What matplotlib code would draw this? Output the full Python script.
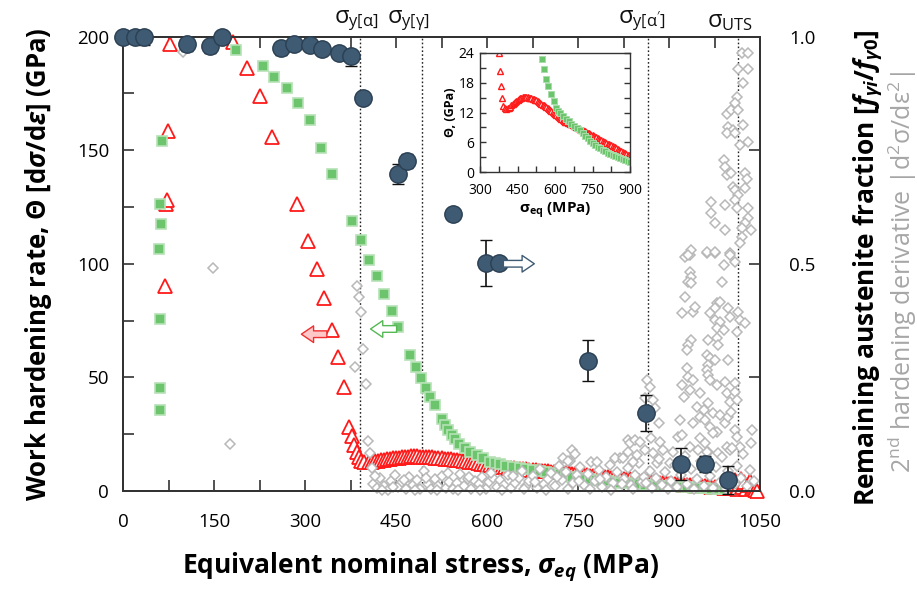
import matplotlib
matplotlib.use('Agg')
import matplotlib.pyplot as plt
from matplotlib.ticker import MultipleLocator, FixedLocator, FixedFormatter
from matplotlib.patches import FancyArrowPatch
import matplotlib.transforms as mtrans

plt.rcParams['font.family'] = ['Open Sans', 'DejaVu Sans']
plt.rcParams['mathtext.fontset'] = 'custom'
plt.rcParams['mathtext.it'] = 'Open Sans:italic:bold'
plt.rcParams['mathtext.rm'] = 'Open Sans:bold'
plt.rcParams['mathtext.bf'] = 'Open Sans:bold'

# ---------------- data ----------------
# remaining austenite fraction (right axis)
circ_x = [0, 20, 35, 106, 143, 164, 260, 282, 308, 328, 356, 375, 396, 453, 468,
          544, 598, 620, 766, 862, 919, 960, 998]
circ_y = [1.0, 1.0, 1.0, 0.983, 0.979, 1.0, 0.974, 0.983, 0.981, 0.972, 0.964, 0.956,
          0.864, 0.697, 0.726, 0.609, 0.502, 0.502, 0.287, 0.171, 0.059, 0.059, 0.024]
circ_err_lo = [0, 0, 0.018, 0.015, 0.016, 0.016, 0.015, 0, 0, 0, 0.01, 0.022, 0.005,
               0.022, 0.015, 0, 0.05, 0, 0.045, 0.04, 0.035, 0.017, 0.03]
circ_err_hi = [0, 0, 0, 0, 0, 0, 0, 0, 0, 0, 0, 0, 0,
               0.022, 0.015, 0, 0.05, 0, 0.045, 0.04, 0.035, 0.017, 0.03]

# work hardening rate, red (triangles): sparse early points
red_x_a = [70, 71, 72, 74, 77.5, 181, 204, 226, 246, 287, 305, 320, 332, 345, 355, 364,
           372, 377, 381, 385, 389, 393, 398]
red_y_a = [90.3, 126.2, 128.0, 158.4, 196.7, 197.7, 186.0, 173.8, 155.9, 126.3, 110.1, 97.8,
           85.1, 70.8, 59.1, 45.6, 28.3, 24.0, 20.3, 17.3, 15.0, 13.3, 12.9]
# dense part
red_x_b = [405, 410, 415, 420, 425, 430, 435, 440, 445, 450, 455, 460, 465, 470, 475, 480,
           485, 490, 495, 500, 505, 510, 515, 520, 525, 530, 535, 540, 545, 550, 555, 560,
           565, 570, 575, 580, 585, 590, 595, 600, 605, 610, 615, 620, 625, 630, 635, 640,
           645, 650, 655, 660, 665, 670, 675, 680, 685, 690, 695, 700, 705, 710, 715, 720,
           725, 730, 735, 740, 745, 750, 755, 760, 765, 770, 775, 780, 785, 790, 795, 800,
           805, 810, 815, 820, 825, 830, 835, 840, 845, 850, 855, 860, 865, 870, 875, 880,
           885, 890, 895, 900, 905, 910, 915, 920, 925, 930, 935, 940, 945, 950, 955, 960,
           965, 970, 975, 980, 985, 990, 995,
           1000, 1003, 1006, 1009, 1012, 1015, 1018, 1021, 1024, 1027, 1030, 1033, 1036, 1039,
           1042, 1045]
red_y_b = [12.8, 12.9, 13.0, 13.2, 13.5, 13.7, 14.0, 14.2, 14.4, 14.6, 14.7, 14.9, 15.0, 15.1,
           15.2, 15.2, 15.2, 15.1, 15.0, 15.0, 14.9, 14.8, 14.7, 14.6, 14.5, 14.3, 14.2, 14.0,
           13.8, 13.6, 13.5, 13.3, 13.1, 12.9, 12.8, 12.6, 12.3, 12.1, 11.9, 11.6, 11.4, 11.2,
           11.0, 10.8, 10.6, 10.4, 10.3, 10.1, 10.0, 9.9, 9.8, 9.7, 9.6, 9.4, 9.3, 9.2, 9.0,
           8.9, 8.8, 8.6, 8.5, 8.4, 8.3, 8.2, 8.1, 7.9, 7.8, 7.6, 7.5, 7.4, 7.2, 7.1, 7.0, 6.8,
           6.7, 6.5, 6.4, 6.3, 6.1, 6.0, 5.9, 5.7, 5.6, 5.5, 5.4, 5.2, 5.1, 5.0, 4.8, 4.6, 4.5,
           4.3, 4.2, 4.0, 3.9, 3.8, 3.6, 3.5, 3.4, 3.3, 3.2, 3.1, 3.0, 2.9, 2.8, 2.7, 2.6, 2.5,
           2.4, 2.3, 2.2, 2.1, 2.0, 1.9, 1.8, 1.7, 1.6, 1.5, 1.4,
           1.5, 3.5, 2.2, 4.8, 1.0, 3.0, 5.2, 1.8, 3.9, 0.8, 2.7, 4.4, 1.2, 2.4, 0.5, 0.0]
red_x = red_x_a + red_x_b
red_y = red_y_a + red_y_b

# work hardening rate, green (squares)
grn_x = [63.8, 60.9, 62.6, 59.8, 60.9, 60.9, 60.9,
         187, 230, 249, 271, 289, 308, 326, 344, 377, 392, 406, 418, 431, 443, 454, 473,
         483, 491, 499, 506, 515, 526, 531, 536, 542, 547, 554, 564, 572, 583, 594, 605,
         613, 621, 632, 643, 654, 665, 676, 687, 698, 710, 720, 730, 740, 750, 760, 770,
         780, 790, 800, 810, 820, 830, 840, 850, 860, 870, 880, 890, 900, 910, 920, 930,
         940, 950, 960, 970, 980, 990]
grn_y = [154.0, 126.3, 117.5, 106.5, 75.9, 45.5, 35.6,
         194.1, 187.0, 182.0, 177.2, 170.9, 163.3, 150.9, 139.5, 118.9, 110.5, 101.7, 94.6,
         86.7, 79.1, 72.0, 59.8, 54.4, 49.6, 45.2, 41.4, 37.8, 31.7, 29.0, 26.8, 24.6, 22.8,
         20.7, 18.8, 17.3, 15.8, 14.4, 12.9, 12.3, 11.9, 11.2, 10.7, 10.2, 9.7, 9.2, 8.8,
         8.4, 7.8, 7.3, 6.8, 6.3, 5.8, 5.5, 5.1, 4.8, 4.4, 4.2, 3.9, 3.7, 3.4, 3.2, 3.0,
         2.8, 2.6, 2.4, 2.3, 2.1, 2.0, 1.8, 1.7, 1.5, 1.4, 1.2, 1.1, 0.9, 0.8]

# second hardening derivative (arbitrary units, hidden axis 0-200)
gray_x = [99, 148, 176, 382, 386, 389.5, 393, 396, 400, 404, 407, 410,
          412, 418, 424, 430, 436, 442, 448, 454, 460, 466, 472, 478, 484, 490, 496, 502,
          508, 514, 520, 526, 532, 538, 544, 550, 556, 562, 568, 574, 580, 586, 592, 598,
          604, 610, 616, 622, 628, 634, 640, 646, 652, 658, 664, 670, 676, 682, 688, 694,
          700, 706, 712, 718, 724, 730, 736, 742, 748, 754, 760, 766, 772, 778, 784, 790,
          796, 802, 808, 814, 820, 826, 832, 838, 844, 850, 856,
          415, 427, 445, 463, 481, 499, 517, 535, 553, 571, 589, 607, 625, 643, 661, 679,
          697, 715, 733, 751, 769, 787, 805, 823, 841, 859,
          725, 740, 745, 733, 781, 811, 833,
          863, 868.6, 860.4, 873, 877, 884, 835.7, 844, 852, 871, 885, 833, 847, 860, 874,
          890.6, 824.7, 841, 879.6, 907, 901.6,
          926, 935, 962, 976, 1000, 1009, 990, 935, 937, 932, 937, 987, 926, 979, 984, 976,
          968, 921, 940, 943, 1000, 1014, 1017, 1025, 976, 984, 998, 979, 990, 1012, 937,
          932, 929, 965, 979, 981, 998, 962, 968, 976, 929, 965, 962, 932, 940, 965, 968,
          979, 992, 1009, 921, 935, 951, 924, 946, 965, 957, 973, 995, 1000, 1009, 1012,
          951, 959, 984, 918, 940, 968, 979, 992, 998, 1003, 1009, 1012, 1017, 1036, 1035,
          915, 921, 951, 959, 973, 935, 948, 965, 981, 995, 1000,
          1020, 1031, 1014, 1031, 1022, 1012, 1009, 995, 1003, 1014, 998, 1006, 995, 1009,
          1022, 1017, 1031, 990, 992, 995, 1003, 1025, 1028, 1006, 1009, 1014, 1025, 1009,
          970, 992, 970, 976, 992, 1012, 1031, 1031, 1025, 1035, 1020, 1020, 1017, 937,
          932, 962, 976, 1000,
          862, 868, 872, 878, 884, 888, 894, 898, 904, 910, 914, 920, 926, 930, 936, 942,
          946, 952, 958, 962, 968, 972, 978, 984, 988, 994, 998, 1004, 1008, 1012, 1018,
          1022, 1028, 1034, 1040]
gray_y = [193, 98, 20.5, 54.7, 90.2, 85.5, 78.9, 62.3, 47.0, 22.1, 16.6, 10.0,
          3.1, 1.2, 5.6, 2.4, 0.6, 4.3, 7.2, 1.8, 3.9, 0.9, 6.1, 2.7, 4.8, 1.1, 8.6, 3.3,
          0.7, 5.2, 2.1, 6.8, 1.5, 4.1, 0.8, 3.6, 7.4, 2.2, 5.5, 1.0, 4.4, 2.9, 6.3, 0.9,
          3.8, 5.9, 1.6, 4.7, 2.5, 7.1, 1.3, 3.4, 5.8, 8.9, 2.0, 4.6, 6.6, 1.4, 9.5, 3.0,
          5.3, 7.8, 2.3, 11.2, 4.9, 8.2, 13.1, 3.5, 6.9, 10.4, 2.6, 7.6, 12.8, 4.2, 9.1, 1.7,
          6.0, 11.6, 3.7, 8.4, 14.6, 5.1, 10.1, 2.8, 7.0, 12.2, 4.0,
          6.5, 0.4, 1.9, 5.0, 0.3, 5.9, 0.5, 7.9, 0.4, 6.2, 0.6, 8.0, 0.5, 6.4, 0.8, 3.9,
          0.4, 6.3, 1.1, 4.4, 0.9, 5.5, 0.6, 3.1, 0.7, 6.1,
          14.5, 18.0, 16.5, 13.0, 12.9, 14.4, 22.4,
          48.8, 45.9, 40.8, 40.0, 36.4, 29.8, 21.0, 22.4, 21.7, 23.2, 21.7, 17.3, 15.8, 18.0,
          16.6, 18.0, 14.4, 12.9, 12.2, 17.3, 12.2,
          103.0, 103.9, 104.6, 104.9, 104.6, 100.9, 99.5, 96.5, 94.3, 92.1, 91.4, 92.1, 85.5,
          82.6, 83.3, 80.4, 78.2, 78.2, 78.9, 81.1, 76.7, 78.9, 75.2, 73.8, 75.2, 74.5, 80.4,
          71.6, 70.8, 70.1, 66.4, 64.2, 62.0, 66.4, 67.2, 64.2, 57.6, 59.8, 58.4, 57.6, 54.0,
          55.4, 53.2, 50.3, 48.8, 51.0, 48.8, 46.6, 48.1, 47.4, 46.6, 44.4, 43.0, 41.5, 37.1,
          38.6, 35.6, 34.2, 43.0, 39.3, 43.7, 40.0, 32.7, 31.2, 33.4, 31.2, 29.8, 28.3, 26.1,
          29.8, 32.7, 34.9, 26.8, 23.9, 19.5, 26.8, 21.0,
          23.9, 24.6, 23.2, 21.0, 25.4, 19.5, 18.0, 17.3, 16.6, 19.5, 18.0,
          192.6, 192.6, 185.6, 185.6, 179.4, 173.5, 170.6, 165.9, 167.7, 167.7, 160.3, 158.9,
          157.4, 157.4, 161.1, 152.3, 153.7, 145.7, 142.7, 139.1, 139.8, 139.8, 137.2, 133.9,
          132.5, 130.3, 133.2, 128.1, 127.3, 125.9, 122.5, 117.8, 114.9, 124.4, 124.4, 120.0,
          117.8, 114.9, 115.6, 111.9, 109.3, 106.0, 103.9, 105.0, 105.0, 103.9,
          3.5, 9.0, 1.2, 5.8, 14.0, 2.5, 8.3, 0.8, 4.6, 11.5, 1.9, 7.2, 15.5, 3.0, 9.8, 0.9,
          5.1, 13.2, 2.4, 17.0, 6.5, 1.3, 10.7, 4.0, 14.8, 0.7, 8.6, 19.0, 3.2, 11.0, 5.9,
          16.4, 2.1, 9.3, 4.5]

# characteristic stresses
line_x = [390.6, 493, 866, 1014]
line_labels = ['σ$_\\mathregular{y[α]}$', 'σ$_\\mathregular{y[γ]}$',
               'σ$_\\mathregular{y[α\']}$', 'σ$_\\mathregular{UTS}$']
label_dx = [-4, -14, -6, -8]

# arrows (tail, head)
red_arrow = [(336, 69), (294, 69)]
grn_arrow = [(451, 71.3), (408, 71.3)]
blu_arrow = [(627, 0.5), (678, 0.5)]

# ---------------- figure ----------------
W, H = 917, 589
fig = plt.figure(figsize=(W / 100, H / 100), dpi=100)
L, R, B, T = 123, 760, 491, 36.5
ax = fig.add_axes([L / W, 1 - B / H, (R - L) / W, (B - T) / H])
ax3 = ax.twinx()
ax2 = ax.twinx()

spc = '#333333'
for a in (ax, ax2, ax3):
    for s in a.spines.values():
        s.set_color(spc)
        s.set_linewidth(1.2)

ax.set_xlim(0, 1050)
ax.set_ylim(0, 200)
ax.xaxis.set_major_locator(MultipleLocator(150))
ax.xaxis.set_minor_locator(MultipleLocator(75))
ax.yaxis.set_major_locator(MultipleLocator(50))
ax.yaxis.set_minor_locator(MultipleLocator(25))
ax.tick_params(which='both', direction='in', length=8, width=1.2, color=spc,
               top=True, right=False, labelsize=13.5)
ax.tick_params(axis='x', pad=16)
ax.tick_params(axis='y', pad=10)

# vertical dotted lines
for xv in line_x:
    ax.axvline(xv, color='#222222', lw=1.0, ls=(0, (1.2, 1.6)), zorder=1)

ax.plot(red_x, red_y, ls='none', marker='^', ms=10.5, mfc='white', mec='#ff1a1a',
        mew=1.3, clip_on=False, zorder=3)
ax.plot(grn_x, grn_y, ls='none', marker='s', ms=6.5, mfc='#6cc46c', mec='#b5e2b5',
        mew=1.2, clip_on=False, zorder=4)

arr_kw = dict(arrowstyle='simple,head_length=0.55,head_width=0.75,tail_width=0.3',
              mutation_scale=16, lw=1.0, shrinkA=0, shrinkB=0, zorder=6)
ax.add_patch(FancyArrowPatch(red_arrow[0], red_arrow[1], fc='#ffc8c8', ec='#f03030', **arr_kw))
ax.add_patch(FancyArrowPatch(grn_arrow[0], grn_arrow[1], fc='white', ec='#55b855', **arr_kw))

ax.set_xlabel('Equivalent nominal stress, $σ_{eq}$ (MPa)', fontsize=19, fontweight='bold')
ax.xaxis.set_label_coords((420 - L) / (R - L), -(551 - B) / (B - T), transform=ax.transAxes)
ax.set_ylabel('Work hardening rate, $Θ$ [d$σ$/d$ε$] (GPa)', fontsize=18.5, fontweight='bold')
ax.yaxis.set_label_coords(-(L - 54) / (R - L), (B - 264) / (B - T), transform=ax.transAxes)

# top labels
trans = mtrans.blended_transform_factory(ax.transData, ax.transAxes)
for xv, lab, dx in zip(line_x, line_labels, label_dx):
    t = ax.text(xv, 1.008, lab, transform=trans, ha='center', va='bottom', fontsize=17,
                color='#111111')
    t.set_transform(trans + mtrans.ScaledTranslation(dx / 100, 0, fig.dpi_scale_trans))

# hidden derivative axis
ax3.set_ylim(0, 200)
ax3.set_yticks([])
ax3.plot(gray_x, gray_y, ls='none', marker='D', ms=5, mfc='white', mec='#b8b8b8',
         mew=1.1, clip_on=False)

# right axis: austenite fraction
ax2.set_ylim(0, 1.0)
ax2.yaxis.set_major_locator(FixedLocator([0, 0.5, 1.0]))
ax2.yaxis.set_major_formatter(FixedFormatter(['0.0', '0.5', '1.0']))
ax2.yaxis.set_minor_locator(MultipleLocator(0.25))
ax2.tick_params(which='both', direction='in', length=8, width=1.2, color=spc,
                labelsize=13.5, pad=21)
ax2.errorbar(circ_x, circ_y, yerr=[circ_err_lo, circ_err_hi], fmt='o', ms=12.5,
             mfc='#3f5b74', mec='#2a3f52', mew=1.0, ecolor='#111111', elinewidth=1.2,
             capsize=4, capthick=1.2, clip_on=False, zorder=5)
ax2.add_patch(FancyArrowPatch(blu_arrow[0], blu_arrow[1], fc='white', ec='#3f5b74', **arr_kw))

fig.text(868 / W, 1 - 268 / H, 'Remaining austenite fraction [$f_{γi}/f_{γ0}$]',
         rotation=90, ha='center', va='center', fontsize=19, fontweight='bold')
fig.text(902 / W, 1 - 272 / H, '2$^\\mathregular{nd}$ hardening derivative |d$^\\mathregular{2}$σ/dε$^\\mathregular{2}$|',
         rotation=90, ha='center', va='center', fontsize=18, color='#a6a6a6')

# ---------------- inset ----------------
axi = fig.add_axes([480 / W, 1 - 172 / H, 150 / W, 119 / H])
axi.set_xlim(300, 900)
axi.set_ylim(0, 24)
axi.xaxis.set_major_locator(MultipleLocator(150))
axi.xaxis.set_minor_locator(MultipleLocator(75))
axi.yaxis.set_major_locator(MultipleLocator(6))
axi.yaxis.set_minor_locator(MultipleLocator(3))
axi.tick_params(which='both', direction='in', length=4, width=1.0, color=spc,
                left=True, right=True, bottom=True, top=False, labelsize=10, pad=4)
axi.tick_params(axis='x', pad=8)
for s in axi.spines.values():
    s.set_color(spc)
    s.set_linewidth(1.0)
axi.plot(red_x, red_y, ls='none', marker='^', ms=5, mfc='white', mec='#ff1a1a', mew=1.0)
axi.plot(grn_x, grn_y, ls='none', marker='s', ms=4, mfc='#6cc46c', mec='#a8dca8', mew=0.7)
axi.set_xlabel('σ$_\\mathregular{eq}$ (MPa)', fontsize=11, fontweight='bold', labelpad=2)
axi.set_ylabel('Θ, (GPa)', fontsize=9, fontweight='bold', labelpad=1)

fig.savefig('out.png', dpi=100)
